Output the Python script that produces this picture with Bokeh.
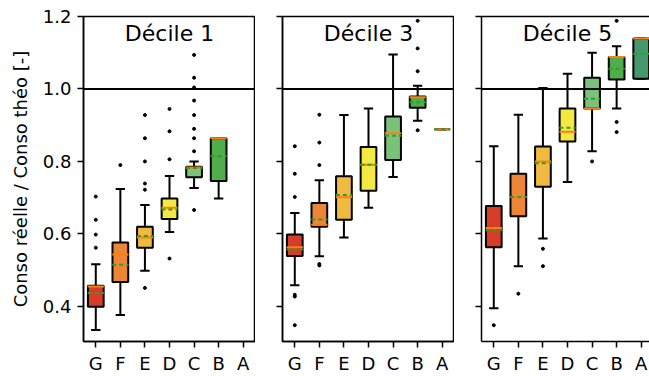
from bokeh.plotting import figure
from bokeh.layouts import row
from bokeh.models import Span, Label, FixedTicker, LinearAxis, Range1d, ColumnDataSource
from bokeh.embed import file_html
from bokeh.resources import INLINE

categories = ["G", "F", "E", "D", "C", "B", "A"]
class_colors = ["#d73c28", "#ec8536", "#f0b940", "#f4e842", "#7ac27a", "#4fae4b", "#43996c"]
panel_titles = ["Décile 1", "Décile 3", "Décile 5"]
y_ticks = [0.4, 0.6, 0.8, 1.0, 1.2]
y_tick_labels = ["0.4", "0.6", "0.8", "1.0", "1.2"]
reference_ratio = 1.0

# Décile 1
d1_low = [0.335, 0.376, 0.498, 0.605, 0.727, 0.698, None]
d1_q1 = [0.399, 0.467, 0.562, 0.641, 0.756, 0.746, None]
d1_median = [0.455, 0.543, 0.590, 0.672, 0.783, 0.864, None]
d1_mean = [0.437, 0.515, 0.594, 0.667, 0.782, 0.814, None]
d1_q3 = [0.457, 0.576, 0.620, 0.698, 0.785, 0.864, None]
d1_high = [0.516, 0.724, 0.680, 0.760, 0.800, 0.864, None]
d1_fliers = [[0.562, 0.598, 0.639, 0.703], [0.790],
             [0.451, 0.722, 0.739, 0.800, 0.864, 0.928],
             [0.532, 0.806, 0.883, 0.945],
             [0.666, 0.828, 0.864, 0.890, 0.928, 0.968, 1.004, 1.031, 1.094],
             [], []]

# Décile 3
d3_low = [0.458, 0.538, 0.590, 0.672, 0.757, 0.912, 0.889]
d3_q1 = [0.539, 0.620, 0.639, 0.719, 0.804, 0.948, 0.889]
d3_median = [0.563, 0.625, 0.701, 0.791, 0.878, 0.977, 0.889]
d3_mean = [0.557, 0.640, 0.707, 0.791, 0.871, 0.963, 0.889]
d3_q3 = [0.598, 0.685, 0.759, 0.840, 0.924, 0.979, 0.889]
d3_high = [0.658, 0.748, 0.928, 0.946, 1.095, 1.009, 0.889]
d3_fliers = [[0.348, 0.427, 0.432, 0.702, 0.766, 0.842],
             [0.513, 0.517, 0.790, 0.852, 0.929],
             [], [], [],
             [0.886, 1.049, 1.112, 1.188], []]

# Décile 5
d5_low = [0.395, 0.511, 0.587, 0.743, 0.828, 0.946, 1.028]
d5_q1 = [0.563, 0.649, 0.730, 0.855, 0.946, 1.026, 1.028]
d5_median = [0.616, 0.702, 0.800, 0.882, 0.946, 1.088, 1.139]
d5_mean = [0.610, 0.702, 0.795, 0.893, 0.973, 1.056, 1.097]
d5_q3 = [0.677, 0.766, 0.841, 0.946, 1.031, 1.088, 1.139]
d5_high = [0.842, 0.929, 1.003, 1.042, 1.100, 1.118, 1.139]
d5_fliers = [[0.348], [0.435], [0.511, 0.559], [], [0.800], [0.881, 0.909, 1.188], []]

panels = [
    (d1_low, d1_q1, d1_median, d1_mean, d1_q3, d1_high, d1_fliers),
    (d3_low, d3_q1, d3_median, d3_mean, d3_q3, d3_high, d3_fliers),
    (d5_low, d5_q1, d5_median, d5_mean, d5_q3, d5_high, d5_fliers),
]

FONT = "DejaVu Sans"
BOX_W = 0.64
HALF = 0.33
CAP = 0.19
y_range = Range1d(0.303, 1.2)

frame_w = [172, 172, 168]
border_left = [83, 27, 27]
px_per_cat = 172 / 7.0


def style_axis(ax):
    ax.axis_line_color = "black"
    ax.axis_line_width = 1.5
    ax.major_tick_line_color = "black"
    ax.major_tick_line_width = 1.5
    ax.major_tick_out = 6
    ax.major_tick_in = 0
    ax.minor_tick_line_color = None
    ax.major_label_text_font = FONT
    ax.major_label_text_font_size = "18px"
    ax.major_label_text_color = "black"


def make_panel(idx):
    low, q1, med, mean, q3, high, fliers = panels[idx]
    xr_end = 0.5 + frame_w[idx] / px_per_cat
    p = figure(width=border_left[idx] + frame_w[idx], height=376,
               x_range=Range1d(0.5, xr_end), y_range=y_range,
               output_backend="svg", toolbar_location=None,
               min_border_left=border_left[idx], min_border_right=0,
               min_border_top=16, min_border_bottom=20)
    p.title.visible = False
    p.grid.visible = False
    p.background_fill_color = "white"
    p.border_fill_color = "white"

    xs = [i + 1 for i, v in enumerate(q1) if v is not None]
    sel = [i for i, v in enumerate(q1) if v is not None]
    src = ColumnDataSource(dict(
        x=xs,
        low=[low[i] for i in sel], q1=[q1[i] for i in sel], med=[med[i] for i in sel],
        mean=[mean[i] for i in sel], q3=[q3[i] for i in sel], high=[high[i] for i in sel],
        color=[class_colors[i] for i in sel],
        xl=[x - HALF for x in xs], xr=[x + HALF for x in xs],
        cl=[x - CAP for x in xs], cr=[x + CAP for x in xs],
    ))

    # whiskers
    p.segment(x0="x", y0="q3", x1="x", y1="high", source=src, line_color="black", line_width=2)
    p.segment(x0="x", y0="low", x1="x", y1="q1", source=src, line_color="black", line_width=2)
    p.segment(x0="cl", y0="high", x1="cr", y1="high", source=src, line_color="black", line_width=2)
    p.segment(x0="cl", y0="low", x1="cr", y1="low", source=src, line_color="black", line_width=2)
    # boxes
    p.vbar(x="x", width=BOX_W, bottom="q1", top="q3", source=src,
           fill_color="color", line_color="black", line_width=2)
    # median and mean
    p.segment(x0="xl", y0="med", x1="xr", y1="med", source=src, line_color="#ff7f0e", line_width=2)
    p.segment(x0="xl", y0="mean", x1="xr", y1="mean", source=src, line_color="#2ca02c",
              line_width=2, line_dash="4 3")

    fx, fy = [], []
    for i, fl in enumerate(fliers):
        for v in fl:
            fx.append(i + 1)
            fy.append(v)
    p.scatter(x=fx, y=fy, size=3, color="black", marker="circle")

    p.add_layout(Span(location=reference_ratio, dimension="width",
                      line_color="black", line_width=2))

    p.add_layout(Label(x=4, y=1.152, text=panel_titles[idx], text_align="center",
                       text_baseline="alphabetic", text_font=FONT, text_font_size="22px",
                       text_color="black"))

    xax = p.below[0]
    yax = p.left[0]
    style_axis(xax)
    style_axis(yax)

    xax.ticker = FixedTicker(ticks=list(range(1, len(categories) + 1)))
    xax.major_label_overrides = {i + 1: c for i, c in enumerate(categories)}
    xax.major_label_standoff = 5
    yax.ticker = FixedTicker(ticks=y_ticks)
    if idx == 0:
        yax.major_label_overrides = {t: s for t, s in zip(y_ticks, y_tick_labels)}
        yax.major_label_standoff = 6
        yax.axis_label = "Conso réelle / Conso théo [-]"
        yax.axis_label_text_font = FONT
        yax.axis_label_text_font_size = "18px"
        yax.axis_label_text_font_style = "normal"
        yax.axis_label_text_color = "black"
        yax.axis_label_standoff = 9
    else:
        yax.major_label_overrides = {t: "" for t in y_ticks}
        yax.major_label_standoff = 0

    if idx == 2:
        p.outline_line_color = None
        top_axis = LinearAxis(ticker=FixedTicker(ticks=[]), major_tick_out=0, major_tick_in=0,
                              major_label_standoff=0,
                              axis_line_color="black", axis_line_width=1.5,
                              minor_tick_line_color=None)
        p.add_layout(top_axis, "above")
    else:
        p.outline_line_color = "black"
        p.outline_line_width = 1.5
        p.outline_line_alpha = 1.0
    return p


figs = [make_panel(i) for i in range(3)]
layout = row(*figs, spacing=0)
open("out.html", "w").write(file_html(layout, INLINE))
